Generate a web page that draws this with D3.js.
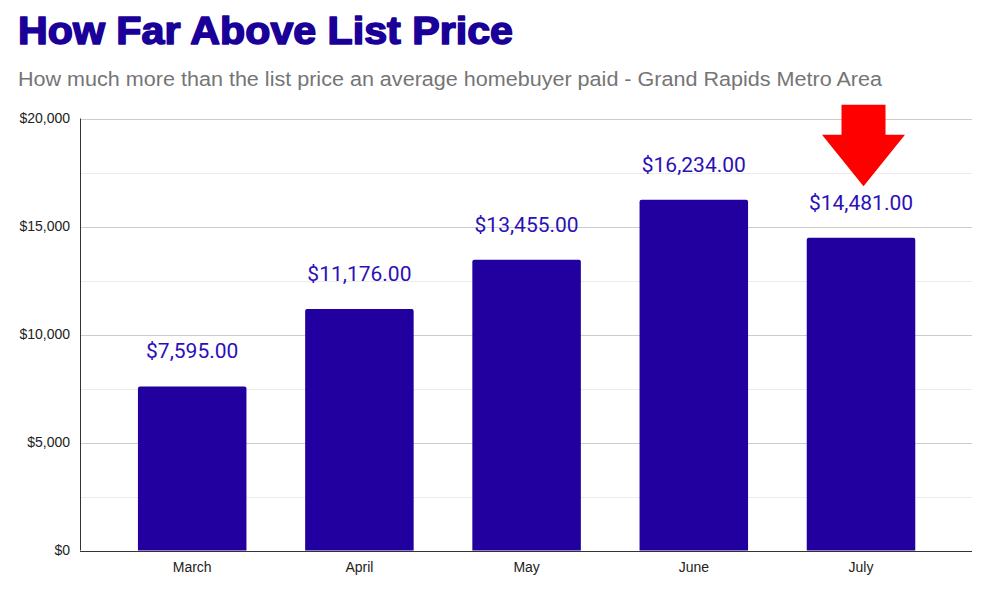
<!DOCTYPE html>
<html>
<head>
<meta charset="utf-8">
<script src="https://cdn.jsdelivr.net/npm/d3@7"></script>
<style>
  html, body { margin: 0; padding: 0; background: #fff; }
  svg { display: block; }
</style>
</head>
<body>
<svg id="chart" width="986" height="593"></svg>
<script>
const months = ["March", "April", "May", "June", "July"];
const values = [7595, 11176, 13455, 16234, 14481];
const yTicks = [0, 5000, 10000, 15000, 20000];
const yMinorTicks = [2500, 7500, 12500, 17500];
const highlightMonth = "July";

const W = 986, H = 593;
const plot = { left: 80, right: 972, top: 118.5, bottom: 550.5 };
const bandLeft = 108.6, bandRight = 944.6;

const svg = d3.select("#chart");

const x = d3.scaleBand()
  .domain(months)
  .range([bandLeft, bandRight])
  .paddingInner(0.351)
  .paddingOuter(0.1755);

const y = d3.scaleLinear()
  .domain([0, 20000])
  .range([plot.bottom, plot.top]);

const fmtTick = v => "$" + d3.format(",")(v);
const fmtLabel = v => "$" + d3.format(",.2f")(v);

// Title
svg.append("text")
  .attr("x", 18).attr("y", 44)
  .attr("font-family", "Liberation Sans, Arial, sans-serif")
  .attr("font-weight", "bold")
  .attr("font-size", 39)
  .attr("fill", "#1a0099")
  .attr("stroke", "#1a0099")
  .attr("stroke-width", 1.6)
  .attr("stroke-linejoin", "round")
  .attr("textLength", 495)
  .attr("lengthAdjust", "spacingAndGlyphs")
  .text("How Far Above List Price");

// Subtitle
svg.append("text")
  .attr("x", 18).attr("y", 86)
  .attr("font-family", "Liberation Sans, Arial, sans-serif")
  .attr("font-size", 20)
  .attr("fill", "#757575")
  .attr("textLength", 864)
  .attr("lengthAdjust", "spacingAndGlyphs")
  .text("How much more than the list price an average homebuyer paid - Grand Rapids Metro Area");

// Minor gridlines
svg.append("g").selectAll("line").data(yMinorTicks).join("line")
  .attr("x1", plot.left).attr("x2", plot.right)
  .attr("y1", d => Math.round(y(d)) + 0.5).attr("y2", d => Math.round(y(d)) + 0.5)
  .attr("stroke", "#ebebeb").attr("stroke-width", 1);

// Major gridlines
svg.append("g").selectAll("line").data(yTicks.filter(d => d > 0)).join("line")
  .attr("x1", plot.left).attr("x2", plot.right)
  .attr("y1", d => Math.round(y(d)) + 0.5).attr("y2", d => Math.round(y(d)) + 0.5)
  .attr("stroke", "#cccccc").attr("stroke-width", 1);

// Y axis
const yAxis = d3.axisLeft(y).tickValues(yTicks).tickFormat(fmtTick).tickSize(0).tickPadding(10);
const yg = svg.append("g").attr("transform", `translate(${plot.left},0)`).call(yAxis);
yg.select(".domain").remove();
yg.selectAll("text")
  .attr("font-family", "Liberation Sans, Arial, sans-serif")
  .attr("font-size", 14).attr("fill", "#222");

// Bars with small rounded top corners
const r = 2;
svg.append("g").selectAll("path").data(months).join("path")
  .attr("d", (m, i) => {
    const x0 = x(m), x1 = x(m) + x.bandwidth();
    const yt = y(values[i]), yb = y(0);
    return `M${x0},${yb} L${x0},${yt + r} Q${x0},${yt} ${x0 + r},${yt} L${x1 - r},${yt} Q${x1},${yt} ${x1},${yt + r} L${x1},${yb} Z`;
  })
  .attr("fill", "#21009f");

// Axis lines
svg.append("line")
  .attr("x1", plot.left + 0.5).attr("x2", plot.left + 0.5)
  .attr("y1", plot.top).attr("y2", plot.bottom)
  .attr("stroke", "#333").attr("stroke-width", 1);
svg.append("line")
  .attr("x1", plot.left).attr("x2", plot.right)
  .attr("y1", Math.round(y(0)) + 0.5).attr("y2", Math.round(y(0)) + 0.5)
  .attr("stroke", "#333").attr("stroke-width", 1);

// X axis labels
const xAxis = d3.axisBottom(x).tickSize(0).tickPadding(12);
const xg = svg.append("g").attr("transform", `translate(0,${plot.bottom})`).call(xAxis);
xg.select(".domain").remove();
xg.selectAll("text")
  .attr("font-family", "Liberation Sans, Arial, sans-serif")
  .attr("font-size", 14).attr("fill", "#222");

// Value labels
const labelGap = 28;
svg.append("g").selectAll("text").data(months).join("text")
  .attr("x", m => x(m) + x.bandwidth() / 2)
  .attr("y", (m, i) => y(values[i]) - labelGap)
  .attr("text-anchor", "middle")
  .attr("font-family", "Roboto, sans-serif")
  .attr("font-size", 21)
  .attr("fill", "#2a10b8")
  .text((m, i) => fmtLabel(values[i]));

// Red arrow annotation above the highlighted month's label
const hi = months.indexOf(highlightMonth);
const cx = x(highlightMonth) + x.bandwidth() / 2 + 2.5;
const tipY = y(values[hi]) - labelGap - 23.5;
const headY = tipY - 51.5;
const topY = headY - 30;
const arrowPts = [
  [cx - 22, topY], [cx + 22, topY], [cx + 22, headY], [cx + 41.5, headY],
  [cx, tipY], [cx - 41.5, headY], [cx - 22, headY]
];
svg.append("polygon")
  .attr("points", arrowPts.map(p => p.join(",")).join(" "))
  .attr("fill", "#ff0000");
</script>
</body>
</html>
